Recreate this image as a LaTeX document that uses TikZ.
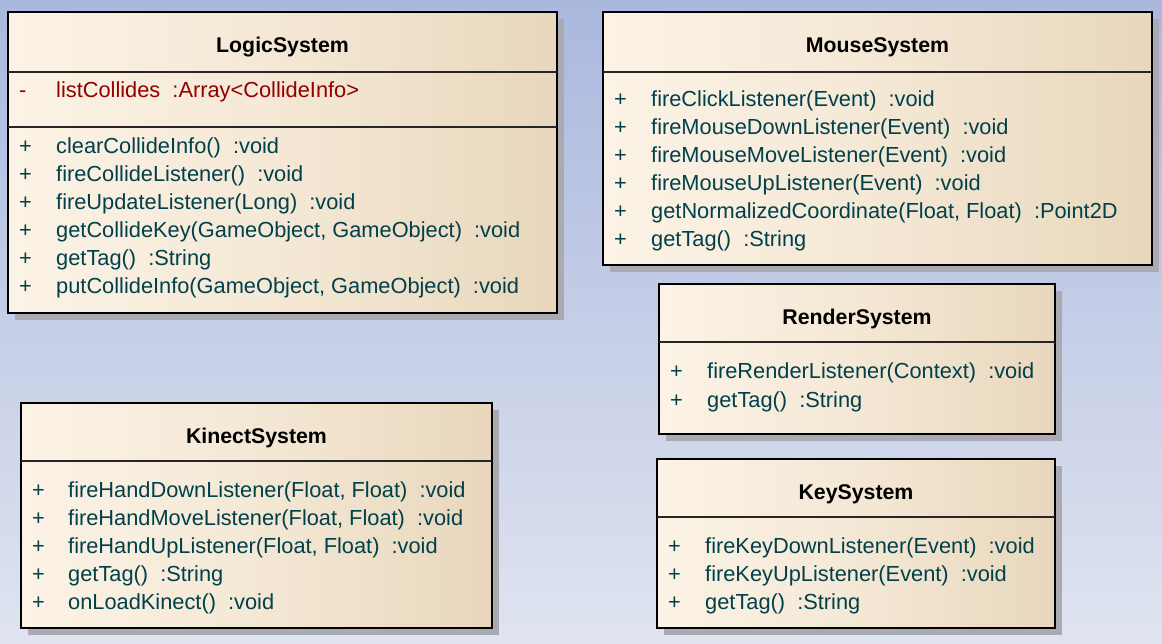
\documentclass[tikz,border=0pt]{standalone}
\usepackage{fontspec}
\setmainfont{Liberation Sans}
\usetikzlibrary{shadows}
\definecolor{bgtop}{HTML}{AAB8DE}
\definecolor{bgbot}{HTML}{E0E4F0}
\definecolor{boxL}{HTML}{FCF3E6}
\definecolor{boxR}{HTML}{E8D7BC}
\definecolor{memc}{HTML}{00404A}
\definecolor{attc}{HTML}{920000}
\definecolor{shad}{HTML}{A9AAB2}
\begin{document}
\begin{tikzpicture}[x=1pt,y=-1pt,
  cls/.style={draw=black, line width=1.6pt, left color=boxL, right color=boxR, middle color=boxL!60!boxR,
    anchor=north west, inner sep=0pt, outer sep=0pt,
    drop shadow={shadow xshift=7pt, shadow yshift=-7pt, fill=shad, opacity=1}},
  sepline/.style={line width=1.4pt, draw=black!85},
  ttl/.style={anchor=base, font=\fontsize{21.3}{25}\selectfont\bfseries, text=black, inner sep=0pt},
  mem/.style={anchor=base west, font=\fontsize{21.8}{25}\selectfont, text=memc, inner sep=0pt},
  att/.style={mem, text=attc}]
\useasboundingbox[top color=bgtop, bottom color=bgbot] (0,0) rectangle (1162,644);
\fill[top color=bgtop, bottom color=bgbot] (0,0) rectangle (1162,644);

% LogicSystem
\node[cls, minimum width=549pt, minimum height=301pt] (logic) at (8,12) {};
\node[ttl] (logicT) at (282.5,53) {LogicSystem};
\draw[sepline] ([yshift=-60pt]logic.north west) -- ([yshift=-60pt]logic.north east);
\draw[sepline] ([yshift=-115pt]logic.north west) -- ([yshift=-115pt]logic.north east);
\node[att] (la) at (19,98) {-};
\node[att] (lb) at (56,98) {listCollides\ \ :Array<CollideInfo>};
\foreach \i/\t in {0/{clearCollideInfo()\ \ :void},1/{fireCollideListener()\ \ :void},2/{fireUpdateListener(Long)\ \ :void},3/{getCollideKey(GameObject, GameObject)\ \ :void},4/{getTag()\ \ :String},5/{putCollideInfo(GameObject, GameObject)\ \ :void}}{
  \node[mem] (lp\i) at (19,154+28*\i) {+};
  \node[mem] (lm\i) at (56,154+28*\i) {\t};
}

% MouseSystem
\node[cls, minimum width=549pt, minimum height=253pt] (mouse) at (603,12) {};
\node[ttl] (mouseT) at (877.5,53) {MouseSystem};
\draw[sepline] ([yshift=-60pt]mouse.north west) -- ([yshift=-60pt]mouse.north east);
\foreach \i/\t in {0/{fireClickListener(Event)\ \ :void},1/{fireMouseDownListener(Event)\ \ :void},2/{fireMouseMoveListener(Event)\ \ :void},3/{fireMouseUpListener(Event)\ \ :void},4/{getNormalizedCoordinate(Float, Float)\ \ :Point2D},5/{getTag()\ \ :String}}{
  \node[mem] (mp\i) at (614,107+28*\i) {+};
  \node[mem] (mm\i) at (651,107+28*\i) {\t};
}

% RenderSystem
\node[cls, minimum width=396pt, minimum height=150pt] (render) at (659,284) {};
\node[ttl] (renderT) at (857,324) {RenderSystem};
\draw[sepline] ([yshift=-58pt]render.north west) -- ([yshift=-58pt]render.north east);
\foreach \i/\t in {0/{fireRenderListener(Context)\ \ :void},1/{getTag()\ \ :String}}{
  \node[mem] (rp\i) at (670,378+29*\i) {+};
  \node[mem] (rm\i) at (707,378+29*\i) {\t};
}

% KinectSystem
\node[cls, minimum width=471pt, minimum height=225pt] (kinect) at (21,403) {};
\node[ttl] (kinectT) at (256.5,443) {KinectSystem};
\draw[sepline] ([yshift=-58pt]kinect.north west) -- ([yshift=-58pt]kinect.north east);
\foreach \i/\t in {0/{fireHandDownListener(Float, Float)\ \ :void},1/{fireHandMoveListener(Float, Float)\ \ :void},2/{fireHandUpListener(Float, Float)\ \ :void},3/{getTag()\ \ :String},4/{onLoadKinect()\ \ :void}}{
  \node[mem] (kp\i) at (32,497+28*\i) {+};
  \node[mem] (km\i) at (68,497+28*\i) {\t};
}

% KeySystem
\node[cls, minimum width=398pt, minimum height=169pt] (key) at (657,459) {};
\node[ttl] (keyT) at (856,499) {KeySystem};
\draw[sepline] ([yshift=-58pt]key.north west) -- ([yshift=-58pt]key.north east);
\foreach \i/\t in {0/{fireKeyDownListener(Event)\ \ :void},1/{fireKeyUpListener(Event)\ \ :void},2/{getTag()\ \ :String}}{
  \node[mem] (yp\i) at (668,553+28*\i) {+};
  \node[mem] (ym\i) at (705,553+28*\i) {\t};
}
\end{tikzpicture}
\end{document}
